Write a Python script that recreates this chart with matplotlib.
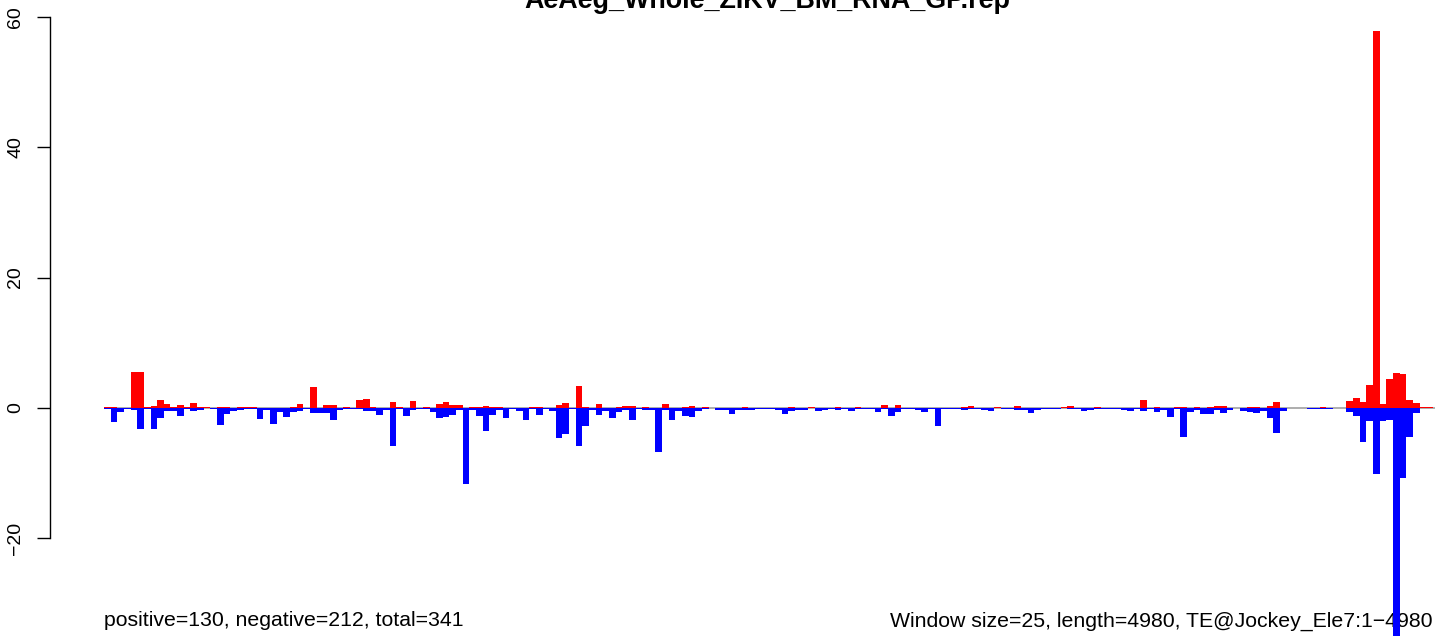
import matplotlib
matplotlib.use("Agg")
import matplotlib.pyplot as plt
import numpy as np

plt.rcParams['font.family'] = ['Liberation Sans', 'DejaVu Sans']

title = "AeAeg_Whole_ZIKV_BM_RNA_GP.rep"
left_note = "positive=130, negative=212, total=341"
right_note = "Window size=25, length=4980, TE@Jockey_Ele7:1\u22124980"
yticks = [-20, 0, 20, 40, 60]

# positive (red) signal per 25bp window, 200 windows
pos_vals = [
    0.15, 0.15, 0, 0, 5.5, 5.5, 0.15, 0.3, 1.2, 0.6,
    0.15, 0.45, 0.15, 0.75, 0.1, 0.15, 0, 0.15, 0.15, 0,
    0.15, 0.15, 0.15, 0, 0, 0, 0, 0, 0.15, 0.6,
    0, 3.2, 0, 0.45, 0.45, 0, 0.15, 0, 1.2, 1.4,
    0.15, 0, 0, 0.9, 0.15, 0, 1.05, 0, 0.15, 0,
    0.6, 0.9, 0.45, 0.45, 0, 0.15, 0.15, 0.3, 0.15, 0.15,
    0, 0, 0, 0, 0.15, 0.15, 0, 0, 0.45, 0.75,
    0, 3.35, 0.15, 0, 0.6, 0, 0, 0.15, 0.3, 0.3,
    0, 0.15, 0, 0, 0.6, 0, 0, 0.15, 0.3, 0,
    0.15, 0, 0, 0, 0, 0, 0.15, 0, 0, 0,
    0, 0, 0, 0.15, 0, 0, 0.15, 0, 0, 0,
    0.15, 0, 0, 0.15, 0, 0, 0, 0.45, 0, 0.45,
    0, 0, 0, 0, 0, 0, 0, 0, 0, 0.15,
    0.3, 0, 0, 0, 0.1, 0, 0, 0.3, 0, 0,
    0, 0, 0, 0, 0.1, 0.3, 0, 0, 0, 0.15,
    0, 0, 0, 0, 0, 0, 1.2, 0, 0.15, 0,
    0, 0.15, 0.15, 0, 0.15, 0, 0.15, 0.3, 0.3, 0,
    0, 0, 0.1, 0.1, 0, 0.3, 0.9, 0, 0, 0,
    0, 0, 0, 0.15, 0, 0, 0, 1.0, 1.6, 0.9,
    3.5, 57.85, 0.65, 4.4, 5.3, 5.15, 1.3, 0.7, 0.1, 0.1,
]

# negative (blue) signal per window
neg_vals = [
    -0.15, -2.15, -0.6, -0.1, -0.3, -3.2, -0.15, -3.2, -1.5, -0.45,
    -0.45, -1.2, -0.1, -0.45, -0.3, 0, -0.15, -2.6, -0.9, -0.45,
    -0.3, -0.2, -0.2, -1.7, -0.3, -2.45, -0.6, -1.4, -0.6, -0.45,
    -0.15, -0.75, -0.75, -0.75, -1.85, -0.3, -0.15, -0.15, -0.15, -0.45,
    -0.45, -1.05, -0.3, -5.8, -0.15, -1.3, -0.3, -0.15, -0.15, -0.55,
    -1.5, -1.35, -1.0, -0.3, -11.6, -0.3, -1.3, -3.6, -1.15, -0.3,
    -1.5, -0.15, -0.4, -1.85, -0.15, -1.15, -0.1, -0.4, -4.55, -3.95,
    -0.15, -5.8, -2.7, -0.3, -1.15, -0.4, -1.5, -0.55, -0.3, -1.85,
    -0.15, -0.3, -0.3, -6.7, -0.3, -1.85, -0.4, -1.2, -1.4, -0.4,
    -0.15, 0, -0.3, -0.3, -0.85, -0.3, -0.3, -0.3, -0.1, -0.1,
    -0.1, -0.3, -0.85, -0.4, -0.3, -0.3, 0, -0.4, -0.3, -0.15,
    -0.3, -0.15, -0.45, -0.15, -0.15, -0.15, -0.55, -0.15, -1.2, -0.55,
    -0.15, -0.15, -0.3, -0.55, -0.15, -2.7, -0.15, -0.15, -0.15, -0.3,
    -0.15, -0.15, -0.3, -0.45, 0, -0.15, -0.15, -0.3, -0.3, -0.75,
    -0.3, -0.15, -0.15, -0.15, 0, -0.15, -0.15, -0.45, -0.3, -0.15,
    -0.15, -0.15, -0.15, -0.3, -0.45, -0.15, -0.45, -0.15, -0.6, -0.3,
    -1.4, -0.15, -4.45, -0.6, -0.3, -0.9, -0.9, -0.3, -0.75, -0.35,
    0, -0.5, -0.65, -0.8, -0.5, -1.5, -3.8, -0.5, 0, 0,
    0, -0.1, -0.1, -0.1, -0.1, 0, 0, -0.65, -1.3, -5.2,
    -2.0, -10.05, -2.0, -1.9, -37.0, -10.8, -4.45, -0.75, 0, 0,
]

W, H = 1441, 636
bar_px = 6.644      # pixels per window
x0_px = 104.0       # left edge of first bar
zero_px = 408.0
unit_px = 6.52      # pixels per y unit

fig = plt.figure(figsize=(W / 100, H / 100), dpi=100)
ax = fig.add_axes([0, 0, 1, 1])

n = len(pos_vals)
idx = np.arange(n)

ax.hlines(0, 0, n + 0.4, color='#a0a0a0', lw=1.2, zorder=1)
ax.bar(idx, pos_vals, width=1.0, align='edge', color='red', linewidth=0, zorder=2)
ax.bar(idx, neg_vals, width=1.0, align='edge', color='blue', linewidth=0, zorder=2)

ax.set_xlim(-x0_px / bar_px, (W - x0_px) / bar_px)
ax.set_ylim((zero_px - H) / unit_px, zero_px / unit_px)

for s in ['top', 'right', 'bottom']:
    ax.spines[s].set_visible(False)
ax.spines['left'].set_position(('data', (50 - x0_px) / bar_px))
ax.spines['left'].set_bounds(-20, 60)
ax.spines['left'].set_linewidth(1.0)
ax.set_xticks([])
ax.set_yticks(yticks)
ax.set_yticklabels([str(t).replace('-', '\u2212') for t in yticks],
                   rotation=90, va='center', fontsize=14)
ax.tick_params(axis='y', direction='out', length=9.5, width=1.0, pad=9)
ax.patch.set_alpha(0)

fig.text(767 / W, 1 - 8.5 / H, title, ha='center', va='baseline',
         fontsize=19.4, fontweight='bold')

y_note = (zero_px - 621) / unit_px
ax.text(0, y_note, left_note, ha='left', va='center', fontsize=15.3, zorder=0.5)
ax.text(n, y_note, right_note, ha='right', va='center', fontsize=15.3, zorder=0.5)

fig.savefig("out.png", dpi=100)
